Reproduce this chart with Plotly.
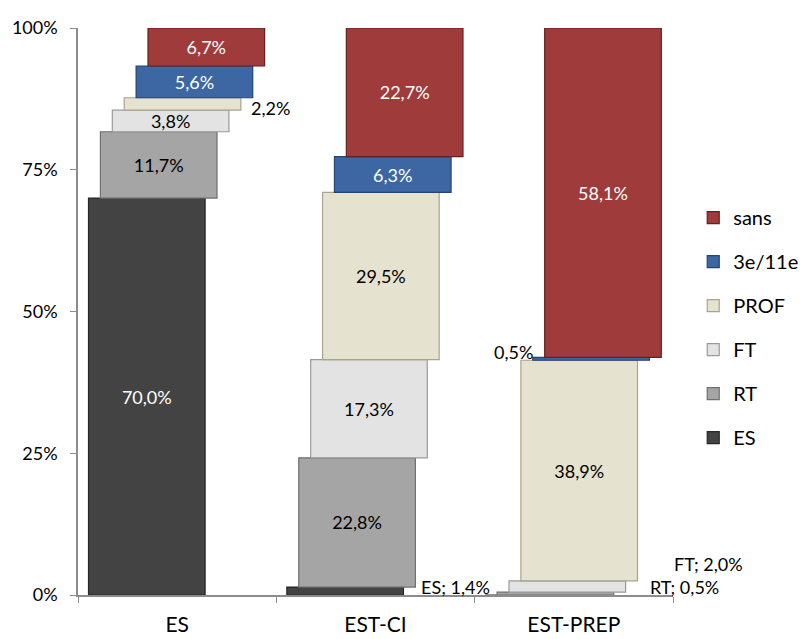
import plotly.graph_objects as go

categories = ["ES", "EST-CI", "EST-PREP"]
series_names = ["ES", "RT", "FT", "PROF", "3e/11e", "sans"]
val_ES = [70.0, 1.4, 0.0]
val_RT = [11.7, 22.8, 0.5]
val_FT = [3.8, 17.3, 2.0]
val_PROF = [2.2, 29.5, 38.9]
val_3e = [5.6, 6.3, 0.5]
val_sans = [6.7, 22.7, 58.1]
y_ticks = [0, 25, 50, 75, 100]
y_tick_labels = ["0%", "25%", "50%", "75%", "100%"]

series_values = [val_ES, val_RT, val_FT, val_PROF, val_3e, val_sans]

colors = ["#434343", "#a5a5a5", "#e3e3e3", "#e5e2cf", "#3d67a3", "#9f3b3a"]
edge_colors = ["#262626", "#6f6f6f", "#9a9a9a", "#a8a48c", "#24446e", "#651f1f"]
text_colors = ["white", "black", "black", "black", "white", "white"]

FONT = "Lato, Open Sans, sans-serif"

# per-series horizontal offsets (Excel-like staircase look)
bar_width = 0.588
first_offset = -0.447
step = 0.06

def fmt(v):
    return ("%.1f" % v).replace(".", ",") + "%"

fig = go.Figure()
bases = [0.0] * len(categories)
bar_geom = {}
n = len(series_names)
for i, (name, vals) in enumerate(zip(series_names, series_values)):
    off = first_offset + i * step
    texts = [fmt(v) if v >= 3.0 else "" for v in vals]
    fig.add_trace(go.Bar(
        x=categories, y=vals, base=list(bases), name=name,
        offset=off, width=bar_width,
        marker=dict(color=colors[i], line=dict(color=edge_colors[i], width=1.2)),
        text=texts, textposition="inside", insidetextanchor="middle",
        textangle=0, constraintext="none",
        textfont=dict(color=text_colors[i], size=18, family=FONT),
        legendgroup=name, legendrank=n - i, hoverinfo="skip",
    ))
    for j in range(len(categories)):
        bar_geom[(categories[j], name)] = (j + off, j + off + bar_width, bases[j], bases[j] + vals[j])
    bases = [b + v for b, v in zip(bases, vals)]

# small-value labels placed outside their bars
outside_labels = [
    ("ES", "PROF", "{v}", "right", 8, -4),
    ("EST-CI", "ES", "ES; {v}", "right", 16, 4),
    ("EST-PREP", "3e/11e", "{v}", "left", -2, 7),
    ("EST-PREP", "FT", "FT; {v}", "right", 46, 23),
    ("EST-PREP", "RT", "RT; {v}", "right", 34, 7),
]
for cat, ser, tmpl, side, xs, ys in outside_labels:
    x0, x1, y0, y1 = bar_geom[(cat, ser)]
    v = series_values[series_names.index(ser)][categories.index(cat)]
    fig.add_annotation(
        x=x1 if side == "right" else x0, y=(y0 + y1) / 2,
        xref="x", yref="y", text=tmpl.format(v=fmt(v)), showarrow=False,
        xanchor="left" if side == "right" else "right", yanchor="middle",
        xshift=xs if side == "right" else -xs, yshift=ys,
        font=dict(size=18, color="black", family=FONT),
    )

fig.update_layout(
    width=800, height=631,
    margin=dict(l=70, r=135, t=20, b=44, autoexpand=False),
    paper_bgcolor="white", plot_bgcolor="white",
    barmode="overlay",
    font=dict(family=FONT, color="black"),
    showlegend=True,
    legend=dict(
        x=1.034, y=0.70, xanchor="left", yanchor="top",
        traceorder="grouped", tracegroupgap=15,
        font=dict(size=20), itemwidth=30,
    ),
    xaxis=dict(
        type="category", range=[-0.5, 2.5],
        showline=True, linecolor="#8c8c8c", linewidth=1.5,
        ticks="outside", ticklen=6, tickcolor="#8c8c8c", tickson="boundaries",
        tickfont=dict(size=21), ticklabelstandoff=10,
        showgrid=False, zeroline=False,
    ),
    yaxis=dict(
        range=[0, 100], tickvals=y_ticks, ticktext=y_tick_labels,
        showline=True, linecolor="#8c8c8c", linewidth=1.5,
        ticks="outside", ticklen=6, tickcolor="#8c8c8c",
        tickfont=dict(size=18), ticklabelstandoff=9,
        showgrid=False, zeroline=False,
    ),
)

fig.write_html("out.html")
